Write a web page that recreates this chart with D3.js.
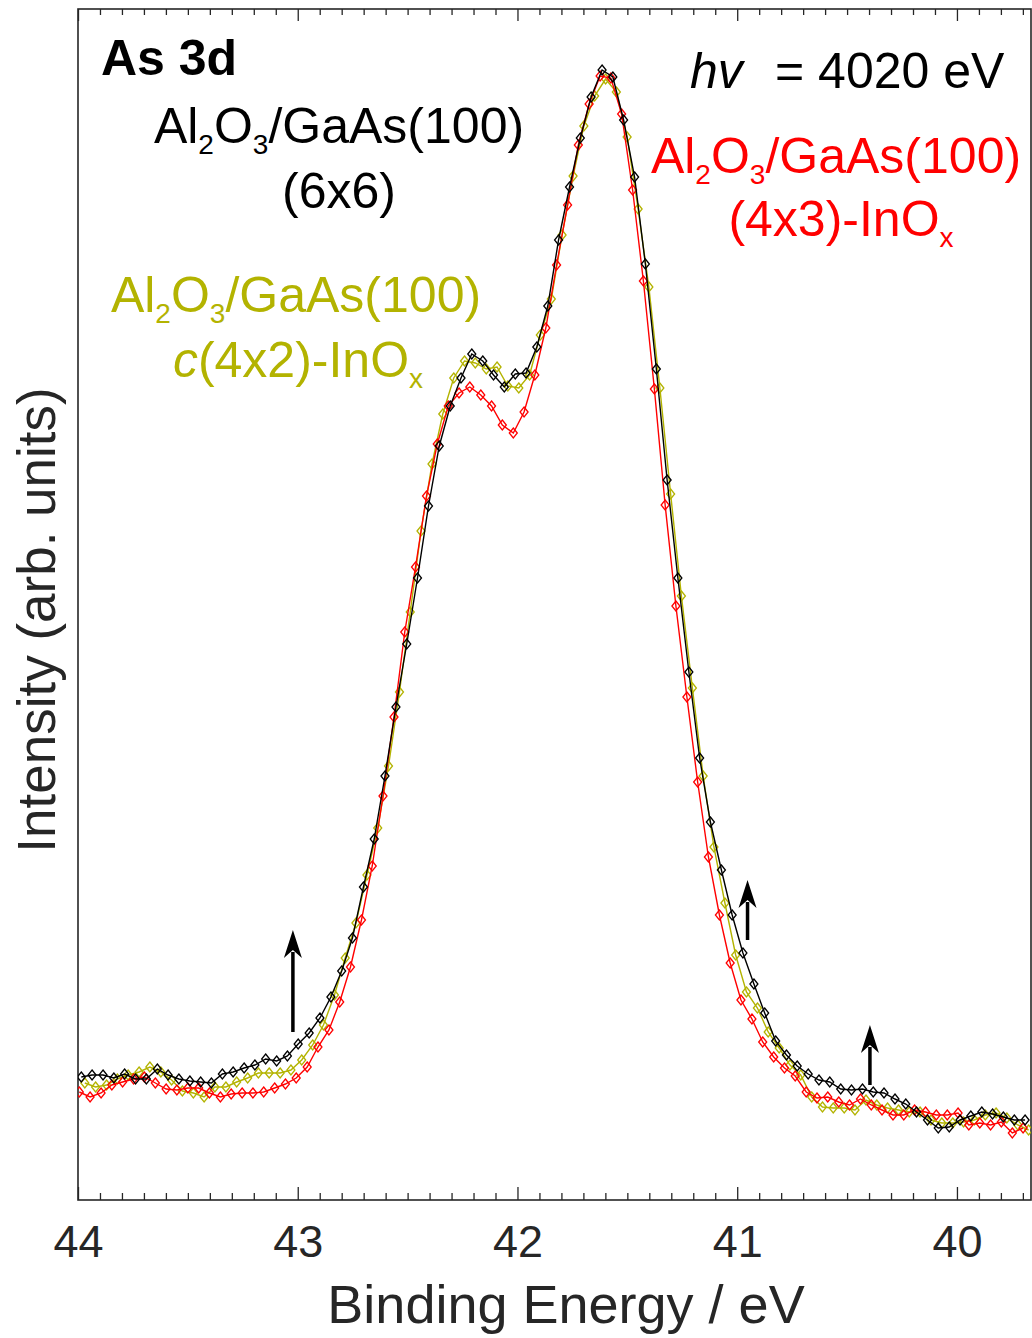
<!DOCTYPE html>
<html>
<head>
<meta charset="utf-8">
<script src="https://cdn.jsdelivr.net/npm/d3@7"></script>
<style>
  body { margin: 0; background: #fff; }
  svg { display: block; font-family: "Liberation Sans", Arial, Helvetica, sans-serif; }
</style>
</head>
<body>
<div id="chart"></div>
<script>
'use strict';

// binding energy of each data point (eV), same grid for the three spectra
const energy = [43.985, 43.936, 43.886, 43.837, 43.788, 43.738, 43.689, 43.639, 43.590, 43.541,
    43.491, 43.442, 43.393, 43.343, 43.294, 43.244, 43.195, 43.146, 43.096, 43.047,
    42.998, 42.948, 42.899, 42.849, 42.800, 42.751, 42.701, 42.652, 42.603, 42.553,
    42.504, 42.455, 42.405, 42.356, 42.306, 42.257, 42.208, 42.158, 42.109, 42.060,
    42.010, 41.961, 41.912, 41.862, 41.813, 41.763, 41.714, 41.665, 41.615, 41.566,
    41.517, 41.467, 41.418, 41.368, 41.319, 41.270, 41.220, 41.171, 41.122, 41.072,
    41.023, 40.974, 40.924, 40.875, 40.825, 40.776, 40.727, 40.677, 40.628, 40.579,
    40.529, 40.480, 40.430, 40.381, 40.332, 40.282, 40.233, 40.184, 40.134, 40.085,
    40.035, 39.986, 39.937, 39.887, 39.838, 39.789, 39.739, 39.690];

// small energy offsets of the red and olive spectra seen against the black one
const shiftRed = 0.009, shiftOlive = -0.016;

// Al2O3/GaAs(100) (6x6)
const black66 = [123, 125, 125, 122, 126, 121, 121, 131, 125, 121,
    119, 118, 117, 126, 128, 132, 135, 141, 139, 144,
    156, 167, 182, 203, 229, 262, 313, 361, 424, 493,
    556, 622, 694, 754, 794, 822, 846, 839, 825, 813,
    826, 827, 853, 894, 960, 1013, 1062, 1103, 1130, 1123,
    1080, 1023, 936, 831, 720, 622, 528, 442, 378, 330,
    285, 247, 216, 187, 159, 145, 134, 126, 120, 118,
    111, 110, 111, 108, 107, 101, 96, 88, 80, 72,
    73, 80, 84, 88, 86, 83, 80, 80];

// Al2O3/GaAs(100) (4x3)-InOx
const red43 = [108, 103, 107, 115, 118, 121, 123, 117, 111, 110,
    112, 112, 107, 103, 106, 107, 107, 108, 112, 116,
    122, 133, 153, 170, 198, 233, 280, 334, 404, 483,
    568, 633, 704, 756, 794, 807, 813, 805, 794, 775,
    767, 788, 825, 872, 935, 995, 1055, 1096, 1124, 1122,
    1086, 1010, 919, 811, 695, 594, 503, 418, 343, 285,
    237, 200, 181, 158, 143, 132, 124, 108, 102, 103,
    98, 95, 101, 95, 90, 85, 85, 90, 88, 85,
    85, 87, 75, 77, 75, 78, 67, 72];

// Al2O3/GaAs(100) c(4x2)-InOx
const olive42 = [117, 113, 115, 121, 125, 128, 133, 128, 120, 109,
    107, 103, 113, 113, 118, 122, 127, 127, 127, 130,
    140, 155, 175, 205, 242, 277, 325, 372, 434, 508,
    588, 669, 736, 786, 822, 839, 837, 831, 833, 814,
    812, 825, 865, 901, 965, 1024, 1074, 1104, 1121, 1108,
    1063, 991, 913, 812, 706, 604, 512, 424, 353, 297,
    245, 208, 192, 168, 152, 135, 125, 103, 93, 92,
    92, 90, 100, 95, 92, 90, 88, 88, 80, 77,
    77, 78, 80, 85, 87, 82, 75, 70];

const xTicks = [44, 43, 42, 41, 40];

// arrows: energy, tail and tip intensity
const arrows = [
    {e: 43.022, from: 168, to: 270},
    {e: 40.953, from: 260, to: 320},
    {e: 40.396, from: 115, to: 175}
];

const OLIVE = '#b3b300';

class SpectrumPlot {

    constructor(args) {
        this.element = document.querySelector(args.selector);
        this.outerWidth = 1032;
        this.outerHeight = 1338;
        this.margin = {top: 9, right: 1, bottom: 138, left: 78};
        this.width = this.outerWidth - this.margin.left - this.margin.right;
        this.height = this.outerHeight - this.margin.top - this.margin.bottom;
        this.series = args.series;
    }

    draw() {
        this.element.innerHTML = '';

        const svg = d3.select(this.element).append('svg')
            .attr('width', this.outerWidth)
            .attr('height', this.outerHeight);
        this.svg = svg;

        this.plot = svg.append('g')
            .attr('transform', `translate(${this.margin.left},${this.margin.top})`);

        this.x = d3.scaleLinear().domain([44, 39.663]).range([0, this.width]);
        this.y = d3.scaleLinear().domain([0, 1191]).range([this.height, 0]);

        this.createAxes();
        this.createChart();
        this.createLabels();
    }

    createAxes() {
        const x = this.x, h = this.height;
        const minor = d3.range(397, 440).map(d => d / 10).filter(d => !xTicks.includes(d));

        this.plot.append('g').attr('transform', `translate(0,${h})`)
            .call(d3.axisBottom(x).tickValues(minor).tickSizeInner(-7).tickSizeOuter(0).tickFormat(''));
        const bottomMajor = this.plot.append('g').attr('transform', `translate(0,${h})`)
            .call(d3.axisBottom(x).tickValues(xTicks).tickSizeInner(-13).tickSizeOuter(0)
                .tickPadding(25).tickFormat(d3.format('d')));
        bottomMajor.selectAll('text')
            .attr('font-size', 45)
            .attr('font-family', '"Liberation Sans", Arial, sans-serif')
            .attr('fill', '#262626');

        this.plot.append('g')
            .call(d3.axisTop(x).tickValues(minor).tickSizeInner(-6).tickSizeOuter(0).tickFormat(''));
        this.plot.append('g')
            .call(d3.axisTop(x).tickValues(xTicks).tickSizeInner(-12).tickSizeOuter(0).tickFormat(''));

        this.plot.selectAll('.domain').remove();
        this.plot.selectAll('.tick line').attr('stroke', '#262626').attr('stroke-width', 1.3);

        // box
        this.plot.append('rect')
            .attr('width', this.width)
            .attr('height', h)
            .attr('fill', 'none')
            .attr('stroke', '#262626')
            .attr('stroke-width', 1.6);
    }

    createChart() {
        const x = this.x, y = this.y;

        this.plot.append('clipPath').attr('id', 'clip')
            .append('rect').attr('width', this.width).attr('height', this.height);

        const diamond = 'M0,-5L4,0L0,5L-4,0Z';

        this.series.forEach(s => {
            const pts = energy.map((e, i) => ({e: e + s.shift, v: s.values[i]}));
            const g = this.plot.append('g').attr('clip-path', 'url(#clip)');

            g.append('path')
                .datum(pts)
                .attr('fill', 'none')
                .attr('stroke', s.color)
                .attr('stroke-width', 1.4)
                .attr('d', d3.line().x(d => x(d.e)).y(d => y(d.v)));

            g.selectAll('.marker')
                .data(pts)
                .enter().append('path')
                .attr('class', 'marker')
                .attr('transform', d => `translate(${x(d.e)},${y(d.v)})`)
                .attr('d', diamond)
                .attr('fill', 'none')
                .attr('stroke', s.color)
                .attr('stroke-width', 1.3);
        });

        // arrows
        arrows.forEach(a => {
            const ax = x(a.e), y0 = y(a.from), y1 = y(a.to);
            const headLen = 28, headW = 9;
            this.plot.append('line')
                .attr('x1', ax).attr('x2', ax)
                .attr('y1', y0).attr('y2', y1 + headLen - 6)
                .attr('stroke', '#000')
                .attr('stroke-width', 3.5);
            this.plot.append('path')
                .attr('d', `M${ax},${y1}L${ax + headW},${y1 + headLen}L${ax},${y1 + headLen - 8}L${ax - headW},${y1 + headLen}Z`)
                .attr('fill', '#000');
        });
    }

    // text line with subscripts: parts are [string, isSub, isItalic]
    addText(parts, cx, cy, color, size) {
        const t = this.svg.append('text')
            .attr('x', cx)
            .attr('y', cy)
            .attr('text-anchor', 'middle')
            .attr('font-size', size)
            .attr('fill', color);
        let down = false;
        parts.forEach(p => {
            const span = t.append('tspan').text(p[0]);
            if (p[1] && !down) { span.attr('dy', 11).attr('font-size', 28); down = true; }
            else if (p[1]) { span.attr('font-size', 28); }
            else if (down) { span.attr('dy', -11); down = false; }
            if (p[2]) span.attr('font-style', 'italic');
        });
        return t;
    }

    createLabels() {
        const svg = this.svg;

        svg.append('text')
            .attr('x', 566)
            .attr('y', 1323)
            .attr('text-anchor', 'middle')
            .attr('font-size', 54)
            .attr('fill', '#262626')
            .text('Binding Energy / eV');

        svg.append('text')
            .attr('transform', 'translate(55,620) rotate(-90)')
            .attr('text-anchor', 'middle')
            .attr('font-size', 53)
            .attr('fill', '#262626')
            .text('Intensity (arb. units)');

        svg.append('text')
            .attr('x', 101)
            .attr('y', 75)
            .attr('font-size', 50)
            .attr('font-weight', 'bold')
            .attr('fill', '#000')
            .text('As 3d');

        const hv = svg.append('text')
            .attr('x', 690)
            .attr('y', 88)
            .attr('font-size', 50)
            .attr('fill', '#000');
        hv.append('tspan').attr('font-style', 'italic').text('hv');
        hv.append('tspan').attr('x', 775).text('= 4020 eV');

        const formula = [['Al'], ['2', true], ['O'], ['3', true], ['/GaAs(100)']];

        this.addText(formula, 339, 143, '#000', 50);
        this.addText([['(6x6)']], 339, 208, '#000', 50);

        this.addText(formula, 836, 173, '#ff0000', 50);
        this.addText([['(4x3)-InO'], ['x', true]], 841, 236, '#ff0000', 50);

        this.addText(formula, 296, 312, OLIVE, 50);
        this.addText([['c', false, true], ['(4x2)-InO'], ['x', true]], 298, 377, OLIVE, 50);
    }
}

const chart = new SpectrumPlot({
    selector: '#chart',
    series: [
        {values: olive42, color: OLIVE, shift: shiftOlive},
        {values: red43, color: '#ff0000', shift: shiftRed},
        {values: black66, color: '#000000', shift: 0}
    ]
});
chart.draw();
</script>
</body>
</html>
